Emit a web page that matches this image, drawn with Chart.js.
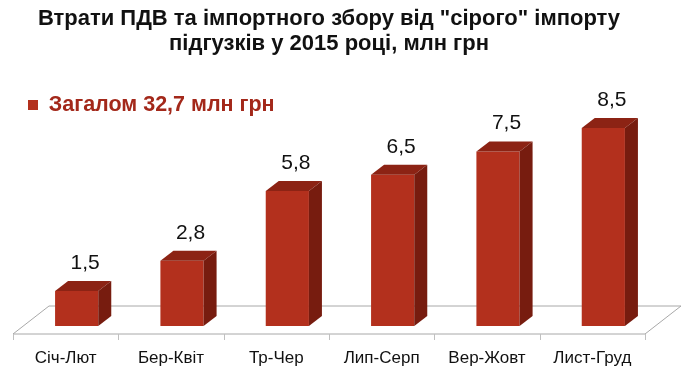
<!DOCTYPE html>
<html>
<head>
<meta charset="utf-8">
<script src="https://cdn.jsdelivr.net/npm/chart.js@4.4.0/dist/chart.umd.min.js"></script>
<style>
  html, body { margin: 0; padding: 0; background: #fff; }
  canvas { display: block; }
</style>
</head>
<body>
<canvas id="lossChart" width="690" height="374"></canvas>
<script>
// Data
var periods = ['Січ-Лют', 'Бер-Квіт', 'Тр-Чер', 'Лип-Серп', 'Вер-Жовт', 'Лист-Груд'];
var losses = [1.5, 2.8, 5.8, 6.5, 7.5, 8.5];
var seriesLabel = 'Загалом 32,7 млн грн';
var titleLines = ['Втрати ПДВ та імпортного збору від "сірого" імпорту', 'підгузків у 2015 році, млн грн'];
var yMax = 8.97;

// 3d look
var depthX = 13, depthY = 10;     // bar depth
var floorFront = 8, floorBack = 20, floorSkew = 36;
var barShift = 11;
var frontColor = '#b3301d', topColor = '#8c2314', sideColor = '#771c0f';

var bars3d = {
  id: 'bars3d',
  beforeDatasetsDraw: function (chart) {
    var ctx = chart.ctx, a = chart.chartArea;
    var b = a.bottom;
    ctx.save();
    // floor
    ctx.beginPath();
    ctx.moveTo(a.left, b + floorFront);
    ctx.lineTo(a.right, b + floorFront);
    ctx.lineTo(a.right + floorSkew, b - floorBack);
    ctx.lineTo(a.left + floorSkew, b - floorBack);
    ctx.closePath();
    ctx.fillStyle = '#ffffff';
    ctx.fill();
    ctx.strokeStyle = '#a8a8a8';
    ctx.lineWidth = 1;
    ctx.stroke();
    // tick marks between categories
    ctx.strokeStyle = '#c0c0c0';
    var step = (a.right - a.left) / periods.length;
    for (var i = 0; i <= periods.length; i++) {
      var tx = Math.round(a.left + i * step) + 0.5;
      ctx.beginPath();
      ctx.moveTo(tx, b + floorFront);
      ctx.lineTo(tx, b + floorFront + 6);
      ctx.stroke();
    }
    ctx.restore();
    ctx.save();
    ctx.translate(barShift, 0);
  },
  afterDatasetsDraw: function (chart) {
    var ctx = chart.ctx;
    ctx.restore();
    var meta = chart.getDatasetMeta(0);
    var b = chart.chartArea.bottom;
    ctx.save();
    ctx.translate(barShift, 0);
    meta.data.forEach(function (bar, i) {
      var half = bar.width / 2;
      var xl = bar.x - half, xr = bar.x + half, yt = bar.y;
      // top face
      ctx.beginPath();
      ctx.moveTo(xl, yt);
      ctx.lineTo(xr, yt);
      ctx.lineTo(xr + depthX, yt - depthY);
      ctx.lineTo(xl + depthX, yt - depthY);
      ctx.closePath();
      ctx.fillStyle = topColor;
      ctx.fill();
      // side face
      ctx.beginPath();
      ctx.moveTo(xr, yt);
      ctx.lineTo(xr + depthX, yt - depthY);
      ctx.lineTo(xr + depthX, b - depthY);
      ctx.lineTo(xr, b);
      ctx.closePath();
      ctx.fillStyle = sideColor;
      ctx.fill();
      // value label
      ctx.fillStyle = '#111111';
      ctx.font = '21px "Liberation Sans", Arial, sans-serif';
      ctx.textAlign = 'center';
      ctx.textBaseline = 'alphabetic';
      ctx.fillText(String(losses[i]).replace('.', ','), bar.x + depthX / 2 + 2, yt - depthY - 12);
    });
    ctx.restore();
  }
};

var ctx = document.getElementById('lossChart').getContext('2d');
var lossChart = new Chart(ctx, {
  type: 'bar',
  data: {
    labels: periods,
    datasets: [{
      label: seriesLabel,
      data: losses,
      backgroundColor: frontColor,
      borderWidth: 0,
      barPercentage: 0.41,
      categoryPercentage: 1.0,
      clip: false
    }]
  },
  options: {
    responsive: false,
    animation: false,
    devicePixelRatio: 1,
    layout: {
      padding: { left: 13, right: 45, top: 0, bottom: 3 }
    },
    scales: {
      x: {
        grid: { display: false, drawTicks: false },
        border: { display: false },
        ticks: {
          color: '#111111',
          padding: 22,
          font: { family: '"Liberation Sans", Arial, sans-serif', size: 17 }
        },
        afterFit: function (scale) { scale.height = 45; }
      },
      y: {
        display: false,
        min: 0,
        max: yMax
      }
    },
    plugins: {
      title: {
        display: true,
        text: titleLines,
        color: '#111111',
        padding: { top: 6, bottom: 23 },
        font: { family: '"Liberation Sans", Arial, sans-serif', size: 22, weight: 'bold', lineHeight: 1.14 }
      },
      legend: {
        display: true,
        position: 'top',
        align: 'start',
        maxHeight: 38,
        labels: {
          color: '#a3281a',
          boxWidth: 10,
          boxHeight: 10,
          padding: 15,
          font: { family: '"Liberation Sans", Arial, sans-serif', size: 21.5, weight: 'bold' }
        }
      },
      tooltip: { enabled: false }
    }
  },
  plugins: [bars3d]
});
</script>
</body>
</html>
